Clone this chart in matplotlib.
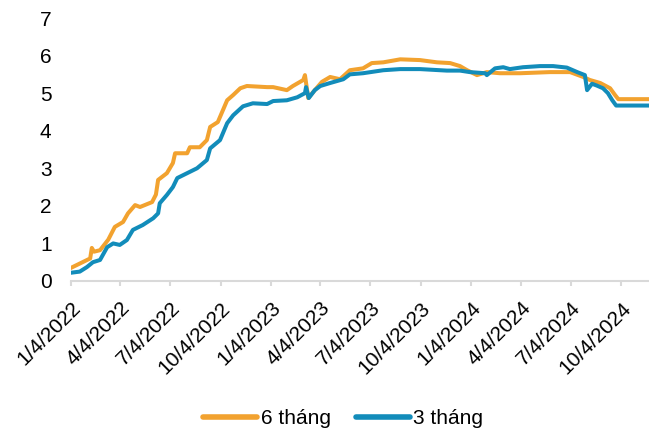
import matplotlib
matplotlib.use("Agg")
import matplotlib.pyplot as plt
import pandas as pd

# ---- data ----
dates_6m = ["2022-01-04", "2022-02-08", "2022-02-11", "2022-02-15", "2022-02-26", "2022-03-13",
            "2022-03-25", "2022-04-09", "2022-04-18", "2022-05-01", "2022-05-10", "2022-06-01",
            "2022-06-08", "2022-06-12", "2022-06-28", "2022-07-09", "2022-07-13", "2022-08-04",
            "2022-08-09", "2022-08-27", "2022-09-09", "2022-09-15", "2022-09-29", "2022-10-16",
            "2022-10-27", "2022-11-09", "2022-11-21", "2022-12-28", "2023-01-08", "2023-02-02",
            "2023-02-13", "2023-03-04", "2023-03-07", "2023-03-13", "2023-03-25", "2023-04-07",
            "2023-04-22", "2023-05-10", "2023-05-28", "2023-06-21", "2023-07-07", "2023-07-28",
            "2023-08-28", "2023-10-03", "2023-11-03", "2023-11-27", "2023-12-15", "2023-12-28",
            "2024-01-15", "2024-02-02", "2024-02-26", "2024-04-03", "2024-05-27", "2024-07-03",
            "2024-07-27", "2024-08-08", "2024-08-27", "2024-09-14", "2024-09-23", "2024-09-29",
            "2024-11-24"]
vals_6m = [0.35, 0.60, 0.88, 0.78, 0.82, 1.10,
           1.44, 1.57, 1.80, 2.02, 1.97, 2.10,
           2.30, 2.69, 2.87, 3.14, 3.40, 3.40,
           3.56, 3.56, 3.75, 4.10, 4.23, 4.81,
           4.95, 5.13, 5.19, 5.16, 5.16, 5.08,
           5.19, 5.35, 5.48, 4.87, 5.08, 5.30,
           5.43, 5.37, 5.61, 5.66, 5.80, 5.82,
           5.90, 5.88, 5.82, 5.80, 5.72, 5.61,
           5.48, 5.56, 5.53, 5.53, 5.56, 5.56,
           5.43, 5.35, 5.27, 5.13, 4.95, 4.84,
           4.84]

dates_3m = ["2022-01-04", "2022-01-20", "2022-02-02", "2022-02-13", "2022-02-26", "2022-03-11",
            "2022-03-22", "2022-04-03", "2022-04-16", "2022-04-27", "2022-05-15", "2022-06-03",
            "2022-06-12", "2022-06-15", "2022-06-28", "2022-07-09", "2022-07-17", "2022-08-04",
            "2022-08-22", "2022-09-09", "2022-09-15", "2022-10-03", "2022-10-16", "2022-10-27",
            "2022-11-14", "2022-12-02", "2022-12-28", "2023-01-08", "2023-02-02", "2023-02-21",
            "2023-03-07", "2023-03-09", "2023-03-14", "2023-03-25", "2023-04-04", "2023-04-22",
            "2023-05-16", "2023-05-28", "2023-06-21", "2023-07-28", "2023-08-28", "2023-10-03",
            "2023-11-21", "2023-12-15", "2024-01-02", "2024-01-30", "2024-02-02", "2024-02-17",
            "2024-03-03", "2024-03-15", "2024-04-08", "2024-05-09", "2024-06-02", "2024-06-27",
            "2024-07-16", "2024-07-30", "2024-08-03", "2024-08-12", "2024-08-21", "2024-09-01",
            "2024-09-10", "2024-09-18", "2024-09-25", "2024-11-24"]
vals_3m = [0.22, 0.25, 0.37, 0.50, 0.56, 0.90,
           1.00, 0.96, 1.09, 1.36, 1.49, 1.67,
           1.80, 2.07, 2.29, 2.50, 2.74, 2.87,
           3.00, 3.22, 3.53, 3.75, 4.20, 4.41,
           4.65, 4.73, 4.71, 4.79, 4.81, 4.89,
           5.00, 5.16, 4.87, 5.08, 5.19, 5.27,
           5.37, 5.50, 5.53, 5.61, 5.64, 5.64,
           5.60, 5.60, 5.56, 5.53, 5.48, 5.66,
           5.69, 5.64, 5.69, 5.72, 5.72, 5.68,
           5.56, 5.48, 5.08, 5.25, 5.20, 5.13,
           5.00, 4.81, 4.67, 4.67]

tick_dates = ["2022-01-04", "2022-04-04", "2022-07-04", "2022-10-04", "2023-01-04", "2023-04-04",
              "2023-07-04", "2023-10-04", "2024-01-04", "2024-04-04", "2024-07-04", "2024-10-04"]
tick_labels = ["1/4/2022", "4/4/2022", "7/4/2022", "10/4/2022", "1/4/2023", "4/4/2023",
               "7/4/2023", "10/4/2023", "1/4/2024", "4/4/2024", "7/4/2024", "10/4/2024"]
y_ticks = [0, 1, 2, 3, 4, 5, 6, 7]
series_names = ["6 tháng", "3 tháng"]

# ---- figure ----
plt.rcParams['font.family'] = ['Liberation Sans', 'DejaVu Sans']
fig = plt.figure(figsize=(6.49, 4.29), dpi=100)
ax = fig.add_axes([71 / 649, 1 - 281 / 429, 1 - 71 / 649, (281 - 18) / 429])

orange = "#F2A22F"
blue = "#128CBA"
ax.plot(pd.to_datetime(dates_6m), vals_6m, color=orange, lw=2.9, label=series_names[0],
        solid_joinstyle='round')
ax.plot(pd.to_datetime(dates_3m), vals_3m, color=blue, lw=2.9, label=series_names[1],
        solid_joinstyle='round')

ax.set_xlim(pd.Timestamp("2022-01-04"), pd.Timestamp("2024-11-24"))
ax.set_ylim(0, 7)
ax.set_yticks(y_ticks)
ax.set_yticklabels([str(v) for v in y_ticks], fontsize=15)
ax.tick_params(axis='y', length=0, pad=14, colors='#000000')

ax.set_xticks(pd.to_datetime(tick_dates))
ax.set_xticklabels(tick_labels, fontsize=15, rotation=45, ha='right',
                   rotation_mode='anchor')
ax.tick_params(axis='x', length=3.6, width=1.5, color='#D9D9D9', pad=9)

for s in ['top', 'right', 'left']:
    ax.spines[s].set_visible(False)
ax.spines['bottom'].set_color('#D9D9D9')
ax.spines['bottom'].set_linewidth(1.5)

leg = fig.legend(loc='center', bbox_to_anchor=(343 / 649, 1 - 419 / 429), ncol=2,
                 frameon=False, fontsize=15, handlelength=2.6, handletextpad=0.15,
                 columnspacing=1.2, borderaxespad=0)
for line in leg.get_lines():
    line.set_linewidth(4)
    line.set_solid_capstyle('round')

fig.savefig("out.png", dpi=100)
